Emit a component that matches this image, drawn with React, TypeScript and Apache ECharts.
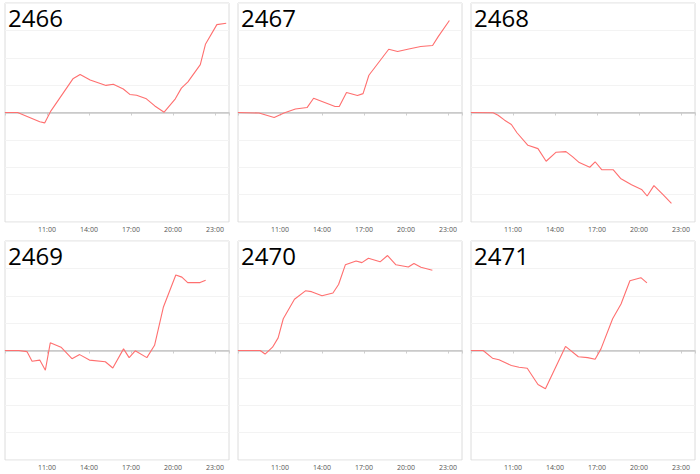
import React, { useEffect, useRef } from "react";
import * as echarts from "echarts";

const panelNames = ["2466", "2467", "2468", "2469", "2470", "2471"];
const tickLabels = ["11:00", "14:00", "17:00", "20:00", "23:00"];

const times2466 = ["8:00", "8:54", "10:29", "10:50", "11:17", "12:51", "13:22", "14:05", "15:13", "15:44", "16:27", "16:55", "17:24", "18:06", "18:42", "19:22", "20:10", "20:36", "21:04", "21:57", "22:19", "23:08", "23:48"];
const values2466 = [0, 0, -0.34, -0.38, 0.06, 1.23, 1.39, 1.19, 0.99, 1.03, 0.86, 0.66, 0.63, 0.5, 0.24, 0.01, 0.5, 0.89, 1.12, 1.75, 2.49, 3.21, 3.26];

const times2467 = ["8:00", "9:30", "10:35", "11:17", "12:06", "12:56", "13:24", "14:56", "15:14", "15:45", "16:32", "16:56", "17:21", "18:46", "19:24", "20:12", "21:03", "21:54", "22:18", "23:06"];
const values2467 = [0, -0.02, -0.18, -0.02, 0.13, 0.18, 0.52, 0.22, 0.22, 0.73, 0.62, 0.69, 1.36, 2.31, 2.23, 2.32, 2.41, 2.45, 2.77, 3.36];

const times2468 = ["8:00", "9:35", "9:56", "10:24", "10:53", "11:17", "12:04", "12:47", "13:22", "14:05", "14:47", "15:16", "15:44", "16:29", "16:52", "17:20", "18:09", "18:41", "19:28", "20:11", "20:35", "21:04", "21:42", "22:19"];
const values2468 = [0, -0.01, -0.1, -0.28, -0.44, -0.74, -1.2, -1.32, -1.78, -1.45, -1.43, -1.62, -1.83, -2.0, -1.8, -2.09, -2.09, -2.41, -2.64, -2.81, -3.05, -2.67, -2.99, -3.32];

const times2469 = ["8:00", "8:59", "9:34", "9:56", "10:29", "10:53", "11:14", "12:00", "12:47", "13:20", "14:02", "15:10", "15:42", "16:28", "16:52", "17:18", "18:08", "18:41", "19:19", "20:12", "20:38", "21:03", "21:56", "22:20"];
const values2469 = [0, 0, -0.04, -0.39, -0.35, -0.72, 0.28, 0.12, -0.3, -0.15, -0.35, -0.41, -0.64, 0.06, -0.26, -0.01, -0.26, 0.19, 1.59, 2.76, 2.68, 2.48, 2.48, 2.57];

const times2470 = ["8:00", "9:35", "9:56", "10:28", "10:52", "11:14", "12:02", "12:49", "13:15", "14:00", "14:47", "15:11", "15:40", "16:26", "16:51", "17:19", "18:09", "18:41", "19:17", "20:10", "20:34", "21:04", "21:53"];
const values2470 = [0, 0, -0.13, 0.12, 0.46, 1.16, 1.87, 2.18, 2.15, 2.0, 2.1, 2.41, 3.13, 3.27, 3.21, 3.37, 3.24, 3.47, 3.13, 3.05, 3.18, 3.04, 2.93];

const times2471 = ["8:00", "8:52", "9:32", "10:00", "10:53", "11:26", "12:01", "12:47", "13:19", "14:45", "15:40", "16:20", "16:52", "17:17", "18:07", "18:43", "19:21", "20:08", "20:34"];
const values2471 = [0, 0, -0.28, -0.34, -0.55, -0.61, -0.65, -1.24, -1.4, 0.15, -0.23, -0.26, -0.32, 0.06, 1.16, 1.7, 2.55, 2.66, 2.47];

const panelTimes = [times2466, times2467, times2468, times2469, times2470, times2471];
const panelValues = [values2466, values2467, values2468, values2469, values2470, values2471];

const toHour = (t: string) => {
  const [h, m] = t.split(":").map(Number);
  return h + m / 60;
};

export default function App() {
  const ref = useRef<HTMLDivElement>(null);
  useEffect(() => {
    if (!ref.current) return;
    const chart = echarts.init(ref.current, null, { renderer: "svg" });
    const colLeft = [5, 238, 471];
    const rowTop = [3, 241];
    const W = 224;
    const H = 219;
    const grids: any[] = [];
    const xAxes: any[] = [];
    const yAxes: any[] = [];
    const series: any[] = [];
    const titles: any[] = [];
    panelNames.forEach((name, i) => {
      const left = colLeft[i % 3];
      const top = rowTop[Math.floor(i / 3)];
      grids.push({
        left,
        top,
        width: W,
        height: H,
        show: true,
        borderColor: "#dcdcdc",
        borderWidth: 1,
        backgroundColor: "#fff",
      });
      xAxes.push({
        type: "value",
        gridIndex: i,
        min: 8,
        max: 24,
        interval: 3,
        axisLine: { show: true, lineStyle: { color: "#d0d0d0" } },
        axisTick: { show: true, length: 3, lineStyle: { color: "#cfcfcf" } },
        splitLine: { show: false },
        axisLabel: {
          fontSize: 7,
          color: "#555",
          margin: 4,
          fontFamily: "Open Sans",
          formatter: (v: number) => {
            const l = tickLabels.find((s) => Math.abs(toHour(s) - v) < 1e-6);
            return l || "";
          },
        },
      });
      yAxes.push({
        type: "value",
        gridIndex: i,
        min: -4,
        max: 4,
        interval: 1,
        axisLine: { show: false },
        axisTick: { show: false },
        axisLabel: { show: false },
        splitLine: { show: true, lineStyle: { color: "#f3f3f3", width: 1 } },
      });
      const ts = panelTimes[i];
      const vs = panelValues[i];
      series.push({
        type: "line",
        xAxisIndex: i,
        yAxisIndex: i,
        data: ts.map((t, k) => [toHour(t), vs[k]]),
        showSymbol: false,
        symbol: "none",
        lineStyle: { color: "#ff6f6f", width: 1.1 },
        itemStyle: { color: "#ff6f6f" },
        markLine: {
          silent: true,
          symbol: "none",
          label: { show: false },
          lineStyle: { color: "#c8c8c8", width: 1.5, type: "solid" },
          data: [{ yAxis: 0 }],
          z: 1,
        },
        z: 3,
      });
      titles.push({
        text: name,
        left: left + 3,
        top: top + 2,
        padding: 0,
        textStyle: {
          fontSize: 24,
          fontWeight: "normal",
          color: "#000",
          fontFamily: "Open Sans",
        },
      });
    });
    chart.setOption({
      animation: false,
      backgroundColor: "#fff",
      title: titles,
      grid: grids,
      xAxis: xAxes,
      yAxis: yAxes,
      series,
    });
    return () => chart.dispose();
  }, []);
  return (
    <div
      ref={ref}
      style={{ position: "fixed", left: 0, top: 0, width: 700, height: 474 }}
    />
  );
}
